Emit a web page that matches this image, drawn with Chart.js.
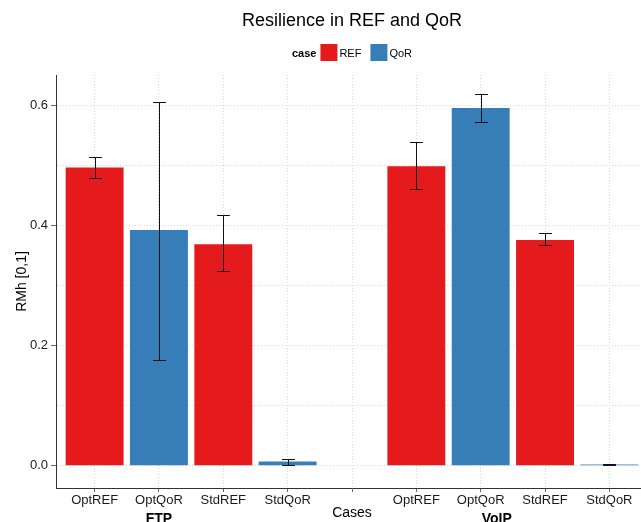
<!DOCTYPE html>
<html>
<head>
<meta charset="utf-8">
<script src="https://cdn.jsdelivr.net/npm/chart.js@4"></script>
<style>
  html, body { margin: 0; padding: 0; background: #fff; overflow: hidden; }
  canvas { display: block; }
</style>
</head>
<body>
<canvas id="c" width="648" height="522"></canvas>
<script>
// ---- data ----
const xLabels   = ['OptREF', 'OptQoR', 'StdREF', 'StdQoR', '', 'OptREF', 'OptQoR', 'StdREF', 'StdQoR'];
const groupLabels = ['FTP', 'VoIP'];
const groupAt     = [1, 6.25];
const refValues = [0.497, null, 0.369, null, null, 0.499, null, 0.376, null];
const qorValues = [null, 0.393, null, 0.007, null, null, 0.596, null, 0.002];
const errHigh   = [0.514, 0.606, 0.417, 0.012, null, 0.540, 0.619, 0.387, 0.0025];
const errLow    = [0.479, 0.177, 0.324, 0.001, null, 0.461, 0.572, 0.367, 0.0015];
const yGridValues  = [0, 0.1, 0.2, 0.3, 0.4, 0.5, 0.6];
const yMajorValues = [0, 0.2, 0.4, 0.6];

const FONT = '"Liberation Sans", Arial, Helvetica, sans-serif';
const RED = '#E41A1C', BLUE = '#377EB8';

function points(vals) {
  const out = [];
  vals.forEach((v, i) => { if (v !== null) out.push({ x: i, y: v }); });
  return out;
}

const errorBars = {
  id: 'errorBars',
  afterDatasetsDraw(chart) {
    const xs = chart.scales.x, ys = chart.scales.y, ctx = chart.ctx;
    ctx.save();
    ctx.strokeStyle = '#111';
    ctx.lineWidth = 1;
    errHigh.forEach((hi, i) => {
      const lo = errLow[i];
      if (hi === null || lo === null) return;
      const x = Math.round(xs.getPixelForValue(i)) + 0.5;
      const half = xs.getPixelForValue(i + 0.1) - xs.getPixelForValue(i);
      const yh = Math.round(ys.getPixelForValue(hi)) + 0.5, yl = Math.round(ys.getPixelForValue(lo)) + 0.5;
      ctx.beginPath();
      ctx.moveTo(x, yh); ctx.lineTo(x, yl);
      ctx.moveTo(x - half, yh); ctx.lineTo(x + half, yh);
      ctx.moveTo(x - half, yl); ctx.lineTo(x + half, yl);
      ctx.stroke();
    });
    ctx.restore();
  }
};

const decorations = {
  id: 'decorations',
  afterDraw(chart) {
    const ctx = chart.ctx, ca = chart.chartArea, xs = chart.scales.x;
    const cx = (ca.left + ca.right) / 2;
    ctx.save();
    // title
    ctx.fillStyle = '#000';
    ctx.font = '18px ' + FONT;
    ctx.textAlign = 'center';
    ctx.textBaseline = 'alphabetic';
    ctx.fillText('Resilience in REF and QoR', cx, 26);
    // legend
    const box = 17;
    ctx.font = 'bold 11px ' + FONT;
    const wCase = ctx.measureText('case').width;
    ctx.font = '11px ' + FONT;
    const items = chart.data.datasets.map(d => ({ label: d.label, color: d.backgroundColor, w: ctx.measureText(d.label).width }));
    let total = wCase + 4;
    items.forEach((it, k) => { total += box + 2 + it.w + (k < items.length - 1 ? 9 : 0); });
    let x = cx - total / 2;
    const top = 44, base = 56.5;
    ctx.textAlign = 'left';
    ctx.font = 'bold 11px ' + FONT;
    ctx.fillText('case', x, base);
    x += wCase + 4;
    ctx.font = '11px ' + FONT;
    items.forEach(it => {
      ctx.fillStyle = it.color;
      ctx.fillRect(x, top, box, box);
      x += box + 2;
      ctx.fillStyle = '#000';
      ctx.fillText(it.label, x, base);
      x += it.w + 9;
    });
    // group labels under x ticks
    ctx.font = 'bold 14px ' + FONT;
    ctx.textAlign = 'center';
    groupLabels.forEach((g, k) => {
      ctx.fillText(g, xs.getPixelForValue(groupAt[k]), 523);
    });
    ctx.restore();
  }
};

new Chart(document.getElementById('c'), {
  type: 'bar',
  data: {
    datasets: [
      { label: 'REF', data: points(refValues), backgroundColor: RED, grouped: false,
        barPercentage: 0.9, categoryPercentage: 1.0 },
      { label: 'QoR', data: points(qorValues), backgroundColor: BLUE, grouped: false,
        barPercentage: 0.9, categoryPercentage: 1.0 }
    ]
  },
  options: {
    responsive: false,
    animation: false,
    devicePixelRatio: 1,
    layout: { padding: { top: 75, left: 0, right: 0, bottom: 0 } },
    plugins: { legend: { display: false }, title: { display: false }, tooltip: { enabled: false } },
    scales: {
      x: {
        type: 'linear',
        offset: false,
        min: -0.6, max: 8.6,
        afterBuildTicks: s => { s.ticks = xLabels.map((_, i) => ({ value: i })); },
        afterFit: s => { s.height = 34; },
        ticks: {
          autoSkip: false, maxRotation: 0, padding: 1,
          color: '#1a1a1a', font: { family: FONT, size: 13 },
          callback: v => xLabels[v]
        },
        grid: {
          offset: false,
          color: '#d8d8d8', lineWidth: 1,
          drawTicks: true, tickLength: 4, tickColor: '#666', tickBorderDash: []
        },
        border: { display: true, color: '#333', width: 1, dash: [1, 2] },
        title: { display: true, text: 'Cases', color: '#000', font: { family: FONT, size: 14 }, padding: { top: 0, bottom: 0 } }
      },
      y: {
        min: -0.037, max: 0.651,
        afterBuildTicks: s => { s.ticks = yGridValues.map(v => ({ value: v })); },
        afterFit: s => { s.width = 56; },
        ticks: {
          padding: 3, color: '#1a1a1a', font: { family: FONT, size: 13 },
          callback: v => (yMajorValues.includes(v) ? v.toFixed(1) : '')
        },
        grid: {
          color: '#d8d8d8', lineWidth: 1,
          drawTicks: true, tickLength: 5, tickBorderDash: [],
          tickColor: c => (c.tick && yMajorValues.includes(c.tick.value) ? '#666' : 'rgba(0,0,0,0)')
        },
        border: { display: true, color: '#333', width: 1, dash: [1, 2] },
        title: { display: true, text: 'RMh [0,1]', color: '#000', font: { family: FONT, size: 14 }, padding: { top: 14, bottom: 0 } }
      }
    }
  },
  plugins: [errorBars, decorations]
});
</script>
</body>
</html>
